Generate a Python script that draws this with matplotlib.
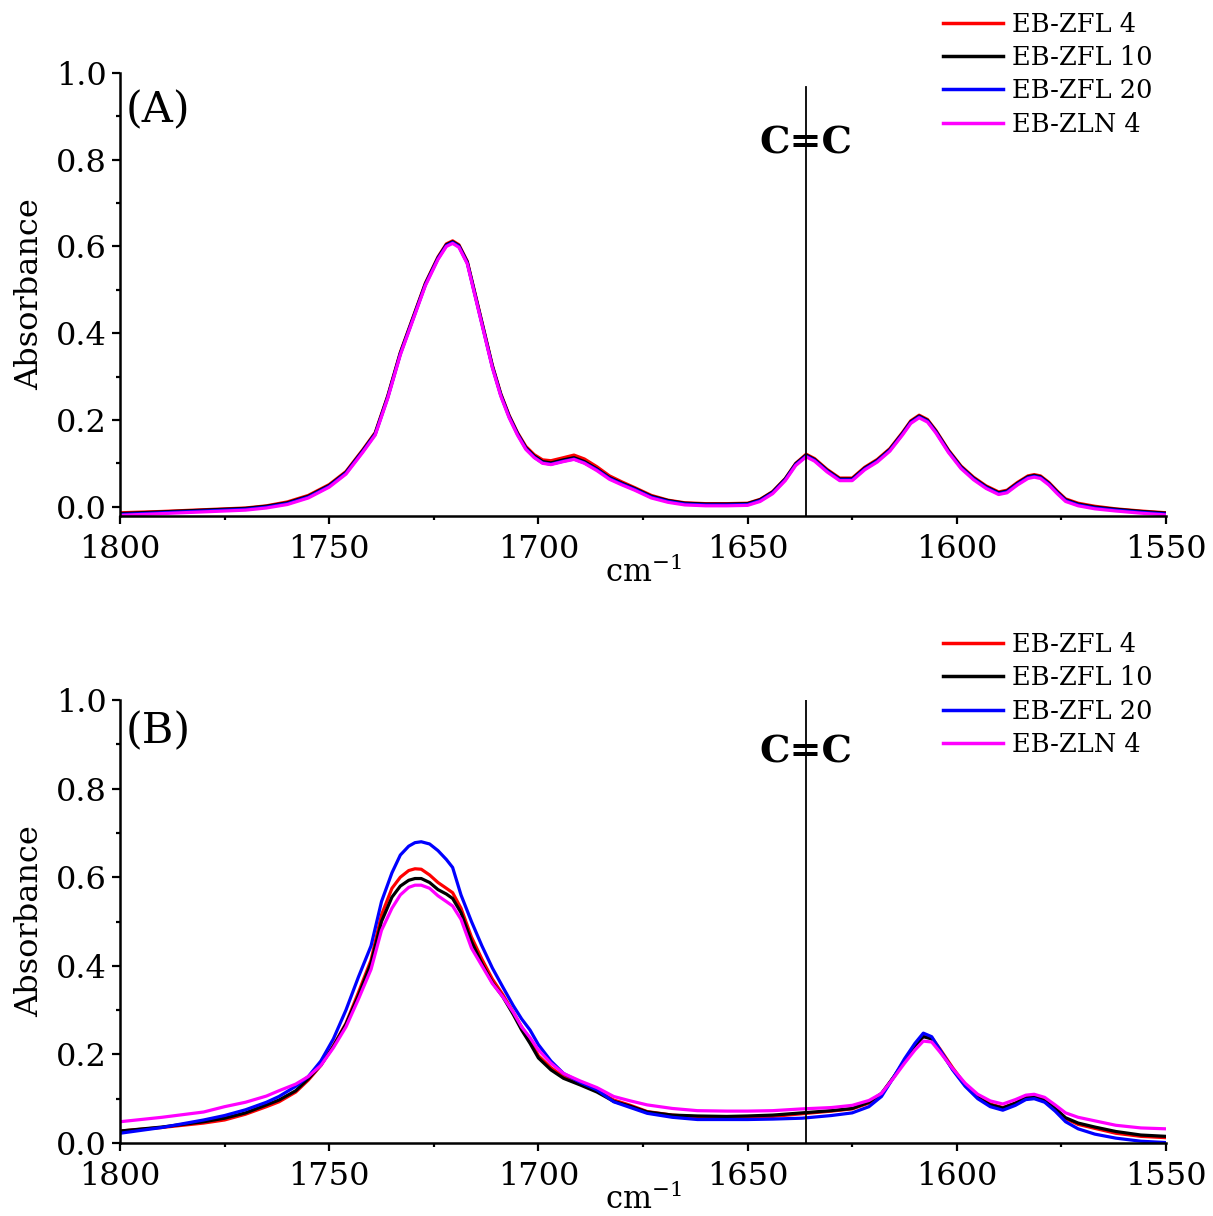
import matplotlib
matplotlib.use("Agg")
import matplotlib.pyplot as plt
from matplotlib.ticker import MultipleLocator

plt.rcParams['font.family'] = ['DejaVu Serif']
plt.rcParams['mathtext.fontset'] = 'dejavuserif'

labels = ["EB-ZFL 4", "EB-ZFL 10", "EB-ZFL 20", "EB-ZLN 4"]
colors = ["#ff0000", "#000000", "#0000ff", "#ff00ff"]

# ---- Panel A data ----
top_wn = [1800, 1790, 1780, 1770, 1765, 1760, 1755, 1750, 1746, 1742,
          1739, 1736, 1733, 1730, 1727, 1724, 1722, 1720.5, 1719, 1717,
          1715, 1713, 1711, 1709, 1707, 1705, 1703, 1701, 1699, 1697,
          1694, 1691.5, 1689, 1686, 1683, 1680, 1677, 1673, 1669, 1665,
          1660, 1655, 1650, 1647, 1644, 1641, 1638.5, 1636, 1634, 1631,
          1628, 1625, 1622, 1619, 1616, 1613, 1611, 1609, 1607, 1605,
          1602, 1599, 1596, 1593, 1590, 1588, 1585.5, 1583, 1581.5, 1580,
          1578, 1576, 1574, 1571, 1567, 1562, 1556, 1550]
top_zfl4 = [-0.014, -0.011, -0.007, -0.003, 0.002, 0.011, 0.026, 0.051, 0.081, 0.131,
            0.171, 0.256, 0.356, 0.436, 0.516, 0.576, 0.606, 0.613, 0.604, 0.566,
            0.486, 0.406, 0.326, 0.261, 0.211, 0.171, 0.139, 0.120, 0.108, 0.106,
            0.113, 0.119, 0.110, 0.092, 0.071, 0.057, 0.044, 0.026, 0.015, 0.009,
            0.007, 0.007, 0.008, 0.017, 0.035, 0.065, 0.100, 0.121, 0.111, 0.086,
            0.066, 0.066, 0.091, 0.109, 0.134, 0.171, 0.198, 0.211, 0.201, 0.176,
            0.131, 0.094, 0.068, 0.048, 0.034, 0.038, 0.056, 0.071, 0.074, 0.071,
            0.056, 0.036, 0.018, 0.008, 0.001, -0.005, -0.010, -0.014]
top_zfl10 = [-0.016, -0.012, -0.008, -0.004, 0.001, 0.009, 0.024, 0.049, 0.079, 0.129,
             0.169, 0.254, 0.354, 0.434, 0.514, 0.574, 0.604, 0.611, 0.602, 0.564,
             0.484, 0.404, 0.324, 0.259, 0.209, 0.169, 0.136, 0.117, 0.104, 0.101,
             0.108, 0.113, 0.104, 0.087, 0.067, 0.054, 0.042, 0.024, 0.014, 0.008,
             0.006, 0.006, 0.007, 0.016, 0.034, 0.064, 0.099, 0.119, 0.109, 0.084,
             0.064, 0.064, 0.089, 0.107, 0.132, 0.169, 0.196, 0.209, 0.199, 0.174,
             0.129, 0.092, 0.066, 0.046, 0.032, 0.036, 0.054, 0.069, 0.072, 0.069,
             0.054, 0.034, 0.016, 0.006, -0.001, -0.006, -0.011, -0.015]
top_zfl20 = [-0.018, -0.014, -0.010, -0.006, -0.001, 0.007, 0.022, 0.047, 0.077, 0.127,
             0.167, 0.252, 0.352, 0.432, 0.512, 0.572, 0.602, 0.609, 0.600, 0.562,
             0.482, 0.402, 0.322, 0.257, 0.207, 0.167, 0.134, 0.114, 0.101, 0.098,
             0.105, 0.110, 0.101, 0.085, 0.065, 0.052, 0.040, 0.022, 0.012, 0.006,
             0.004, 0.004, 0.005, 0.014, 0.032, 0.062, 0.097, 0.117, 0.107, 0.082,
             0.062, 0.062, 0.087, 0.105, 0.130, 0.167, 0.194, 0.207, 0.197, 0.172,
             0.127, 0.090, 0.064, 0.044, 0.030, 0.034, 0.052, 0.067, 0.070, 0.067,
             0.052, 0.032, 0.014, 0.004, -0.003, -0.008, -0.013, -0.017]
top_zln4 = [-0.020, -0.016, -0.012, -0.008, -0.003, 0.005, 0.020, 0.045, 0.075, 0.125,
            0.165, 0.250, 0.350, 0.430, 0.510, 0.570, 0.600, 0.607, 0.598, 0.560,
            0.480, 0.400, 0.320, 0.255, 0.205, 0.165, 0.132, 0.113, 0.100, 0.097,
            0.104, 0.109, 0.100, 0.083, 0.063, 0.050, 0.038, 0.020, 0.010, 0.004,
            0.002, 0.002, 0.003, 0.012, 0.030, 0.060, 0.095, 0.115, 0.105, 0.080,
            0.060, 0.060, 0.085, 0.103, 0.128, 0.165, 0.192, 0.205, 0.195, 0.170,
            0.125, 0.088, 0.062, 0.042, 0.028, 0.032, 0.050, 0.065, 0.068, 0.065,
            0.050, 0.030, 0.012, 0.002, -0.005, -0.010, -0.015, -0.019]

# ---- Panel B data ----
bot_wn = [1800, 1790, 1780, 1775, 1770, 1765, 1762, 1758, 1755, 1752,
          1749, 1746, 1743, 1740, 1737.5, 1735, 1733, 1731, 1729.5, 1728,
          1726, 1724, 1722, 1720.5, 1718.5, 1716, 1713.5, 1711, 1708.5, 1706,
          1704, 1702, 1700, 1697, 1694, 1690, 1686, 1682, 1678, 1674,
          1668, 1662, 1655, 1650, 1644, 1637, 1630, 1625, 1621, 1618,
          1615, 1612.5, 1610, 1608, 1606, 1604, 1601, 1598, 1595, 1592,
          1589, 1586, 1583.5, 1581.5, 1579, 1576.5, 1574, 1571, 1567, 1562,
          1556, 1550]
bot_zfl4 = [0.027, 0.035, 0.045, 0.052, 0.065, 0.082, 0.093, 0.115, 0.142, 0.175,
            0.220, 0.270, 0.340, 0.413, 0.515, 0.575, 0.600, 0.615, 0.619, 0.618,
            0.605, 0.588, 0.575, 0.565, 0.530, 0.465, 0.415, 0.370, 0.335, 0.295,
            0.262, 0.232, 0.197, 0.170, 0.150, 0.135, 0.118, 0.097, 0.085, 0.071,
            0.063, 0.059, 0.058, 0.058, 0.060, 0.066, 0.072, 0.077, 0.090, 0.110,
            0.150, 0.185, 0.220, 0.242, 0.238, 0.212, 0.170, 0.132, 0.105, 0.088,
            0.080, 0.090, 0.102, 0.104, 0.097, 0.078, 0.055, 0.042, 0.033, 0.022,
            0.015, 0.012]
bot_zfl10 = [0.027, 0.036, 0.048, 0.056, 0.068, 0.086, 0.097, 0.118, 0.145, 0.176,
             0.218, 0.268, 0.333, 0.406, 0.500, 0.555, 0.580, 0.593, 0.597, 0.597,
             0.588, 0.572, 0.562, 0.552, 0.520, 0.455, 0.405, 0.362, 0.330, 0.290,
             0.255, 0.225, 0.192, 0.165, 0.146, 0.131, 0.115, 0.094, 0.083, 0.070,
             0.063, 0.061, 0.060, 0.061, 0.063, 0.068, 0.073, 0.078, 0.092, 0.112,
             0.150, 0.185, 0.220, 0.240, 0.235, 0.208, 0.167, 0.130, 0.103, 0.086,
             0.079, 0.090, 0.102, 0.104, 0.096, 0.078, 0.057, 0.045, 0.036, 0.026,
             0.018, 0.015]
bot_zfl20 = [0.022, 0.035, 0.052, 0.062, 0.075, 0.092, 0.105, 0.128, 0.150, 0.185,
             0.235, 0.300, 0.375, 0.445, 0.545, 0.610, 0.650, 0.670, 0.678, 0.680,
             0.675, 0.660, 0.640, 0.622, 0.560, 0.500, 0.445, 0.395, 0.352, 0.310,
             0.280, 0.255, 0.222, 0.185, 0.157, 0.137, 0.120, 0.093, 0.080, 0.067,
             0.058, 0.053, 0.053, 0.053, 0.054, 0.056, 0.062, 0.068, 0.082, 0.105,
             0.150, 0.190, 0.225, 0.248, 0.240, 0.210, 0.165, 0.128, 0.100, 0.082,
             0.074, 0.085, 0.098, 0.100, 0.092, 0.072, 0.048, 0.032, 0.020, 0.011,
             0.004, 0.001]
bot_zln4 = [0.048, 0.058, 0.070, 0.082, 0.092, 0.106, 0.118, 0.133, 0.150, 0.175,
            0.215, 0.262, 0.325, 0.392, 0.480, 0.530, 0.560, 0.577, 0.582, 0.582,
            0.575, 0.558, 0.545, 0.535, 0.505, 0.440, 0.400, 0.360, 0.330, 0.295,
            0.262, 0.238, 0.210, 0.180, 0.157, 0.140, 0.125, 0.105, 0.095, 0.086,
            0.078, 0.073, 0.072, 0.072, 0.073, 0.077, 0.080, 0.085, 0.096, 0.112,
            0.148, 0.180, 0.210, 0.230, 0.228, 0.205, 0.168, 0.135, 0.110, 0.095,
            0.088, 0.098, 0.108, 0.110, 0.103, 0.086, 0.068, 0.058, 0.050, 0.040,
            0.034, 0.032]

cc_position = 1636
panel_labels = ["(A)", "(B)"]
x_ticks = [1800, 1750, 1700, 1650, 1600, 1550]
y_ticks = [0.0, 0.2, 0.4, 0.6, 0.8, 1.0]

W, H = 1213, 1216
fig = plt.figure(figsize=(W / 100, H / 100), dpi=100)

def fx(px):
    return px / W

def fy(py):
    return 1 - py / H

ax_top = fig.add_axes([fx(120), fy(516), fx(1166) - fx(120), fy(73) - fy(516)])
ax_bot = fig.add_axes([fx(120), fy(1143), fx(1166) - fx(120), fy(700) - fy(1143)])

panels = [
    (ax_top, top_wn, [top_zfl4, top_zfl10, top_zfl20, top_zln4], (-0.0215, 1.0), 0.968, 0.839, 11.5),
    (ax_bot, bot_wn, [bot_zfl4, bot_zfl10, bot_zfl20, bot_zln4], (0.0, 1.0), 1.0, 0.883, 632),
]

for i, (ax, wn, series, ylim, vtop, cc_y, leg_top) in enumerate(panels):
    for ys, c, lab in zip(series, colors, labels):
        ax.plot(wn, ys, color=c, lw=2.3, label=lab, solid_joinstyle='round')
    ax.set_xlim(1800, 1550)
    ax.set_ylim(*ylim)
    ax.axvline(cc_position, ymin=0, ymax=vtop, color='black', lw=1.3)
    ax.text(cc_position, cc_y, "C=C", ha='center', va='center', fontsize=27.5,
            fontweight='bold')
    ax.text(0.005, 0.915 if i == 0 else 0.93, panel_labels[i], transform=ax.transAxes,
            ha='left', va='center', fontsize=31)
    ax.set_xticks(x_ticks)
    ax.xaxis.set_minor_locator(MultipleLocator(25))
    ax.set_yticks(y_ticks)
    ax.set_yticklabels([f"{v:.1f}" for v in y_ticks])
    ax.yaxis.set_minor_locator(MultipleLocator(0.1))
    for s in ['top', 'right']:
        ax.spines[s].set_visible(False)
    for s in ['left', 'bottom']:
        ax.spines[s].set_linewidth(1.8)
    ax.tick_params(axis='both', which='major', direction='out', length=5.5, width=1.6,
                   labelsize=23)
    ax.tick_params(axis='x', which='major', pad=7.5)
    ax.tick_params(axis='y', which='major', pad=4)
    ax.tick_params(axis='both', which='minor', direction='out', length=3, width=1.6)
    ax.set_ylabel("Absorbance", fontsize=23, labelpad=8)
    ax.set_xlabel("cm$^{-1}$", fontsize=22, labelpad=-6.5)
    leg = ax.legend(loc='upper left', bbox_to_anchor=(fx(943), fy(leg_top)),
                    bbox_transform=fig.transFigure, frameon=False, fontsize=18.5,
                    handlelength=2.33, handletextpad=0.37, labelspacing=0.33,
                    borderpad=0, borderaxespad=0)
    for line in leg.get_lines():
        line.set_linewidth(2.5)

fig.savefig("out.png", dpi=100)
